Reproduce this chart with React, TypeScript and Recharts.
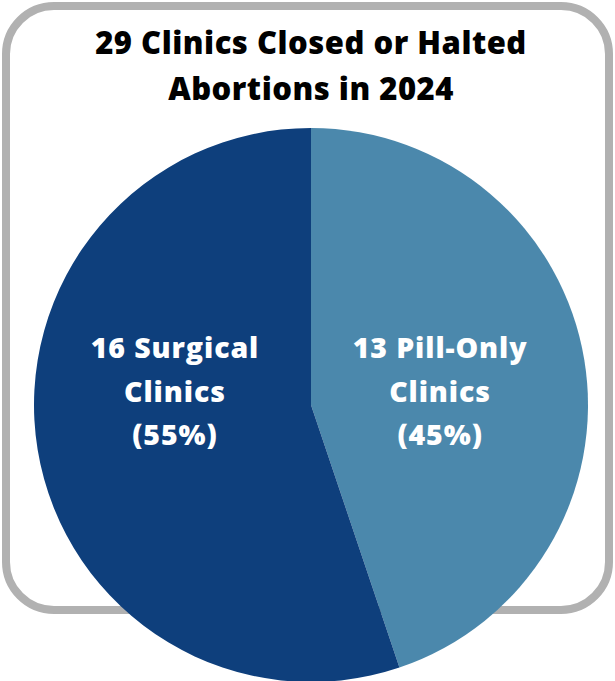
import React from "react";
import { PieChart, Pie, Cell } from "recharts";

const titleLines = ["29 Clinics Closed or Halted", "Abortions in 2024"];
const categories = ["Pill-Only", "Surgical"];
const counts = [13, 16];
const percents = ["45%", "55%"];
const labelLines = [
  ["13 Pill-Only", "Clinics", "(45%)"],
  ["16 Surgical", "Clinics", "(55%)"],
];
const colors = ["#4b88ac", "#0e3f7c"];

const data = categories.map((name, i) => ({ name, value: counts[i], pct: percents[i] }));

const FONT = "'Open Sans', sans-serif";

const renderLabel = (props: any) => {
  const { cx, cy, midAngle, outerRadius, index } = props;
  const RAD = Math.PI / 180;
  const r = outerRadius * 0.485;
  const x = cx + r * Math.cos(-midAngle * RAD) - 3.5;
  const lines = labelLines[index];
  const baseY = cy - 47;
  return (
    <text
      x={x}
      y={baseY}
      fill="#ffffff"
      textAnchor="middle"
      fontFamily={FONT}
      fontWeight={800}
      fontSize={28.5}
      letterSpacing={0.9}
    >
      {lines.map((l, i) => (
        <tspan key={i} x={x} y={baseY + i * 43.5}>
          {l}
        </tspan>
      ))}
    </text>
  );
};

export default function App() {
  return (
    <div style={{ position: "absolute", left: 0, top: 0, width: 615, height: 681, background: "#fff" }}>
      <div
        style={{
          position: "absolute",
          left: 2,
          top: 2,
          width: 611,
          height: 612,
          boxSizing: "border-box",
          border: "8px solid #b1b1b1",
          borderRadius: 52,
        }}
      />
      <svg
        width={615}
        height={130}
        style={{ position: "absolute", left: 0, top: 0 }}
      >
        {titleLines.map((t, i) => (
          <text
            key={i}
            x={311}
            y={53.5 + i * 46.7}
            textAnchor="middle"
            fontFamily={FONT}
            fontWeight={800}
            fontSize={31}
            letterSpacing={0.5}
            fill="#000"
          >
            {t}
          </text>
        ))}
      </svg>
      <div style={{ position: "absolute", left: 0, top: 0 }}>
        <PieChart width={615} height={681} margin={{ top: 0, right: 0, bottom: 0, left: 0 }}>
          <Pie
            data={data}
            dataKey="value"
            nameKey="name"
            cx={311}
            cy={405}
            outerRadius={277}
            startAngle={90}
            endAngle={-270}
            stroke="none"
            labelLine={false}
            label={renderLabel}
            isAnimationActive={false}
          >
            {data.map((d, i) => (
              <Cell key={d.name} fill={colors[i]} />
            ))}
          </Pie>
        </PieChart>
      </div>
    </div>
  );
}
